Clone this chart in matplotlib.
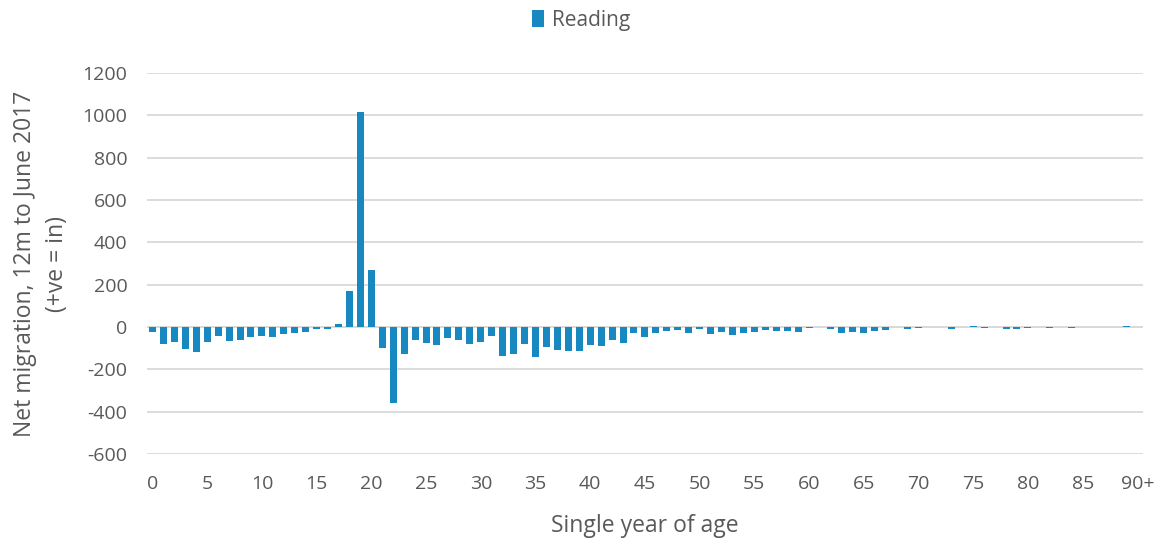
import matplotlib
matplotlib.use("Agg")
import matplotlib.pyplot as plt
import numpy as np

# --- Data ---
ages = [str(a) for a in range(90)] + ["90+"]
net_migration = [
    -24, -79, -71, -102, -118, -69, -44, -66, -61, -47,
    -41, -47, -32, -27, -22, -9, -8, 16, 170, 1015,
    271, -98, -359, -126, -63, -74, -87, -50, -63, -80,
    -71, -44, -137, -129, -82, -140, -95, -107, -112, -115,
    -84, -90, -60, -76, -30, -47, -28, -17, -14, -27,
    -9, -35, -22, -38, -30, -22, -16, -20, -19, -25,
    -5, 0, -8, -30, -24, -27, -17, -14, 0, -8,
    -5, -2, 0, -10, 0, 5, -5, 0, -8, -8,
    -3, 0, -3, 0, -4, 0, 0, -2, -2, 5,
    0,
]
tick_labels = [ages[i] for i in range(0, 90, 5)] + ["90+"]

bar_color = "#1788C0"
text_color = "#595959"
grid_color = "#D9D9D9"

plt.rcParams["font.family"] = ["Open Sans", "DejaVu Sans"]
plt.rcParams["axes.unicode_minus"] = False

fig = plt.figure(figsize=(11.62, 5.38), dpi=100)
ax = fig.add_axes([0.1265, 0.1561, 0.857, 0.7082])

x = np.arange(len(ages))
ax.bar(x, net_migration, width=0.64, color=bar_color, label="Reading", zorder=3)

ax.set_xlim(-0.5, len(ages) - 0.5)
ax.set_ylim(-600, 1200)
ax.set_yticks(range(-600, 1201, 200))
ax.set_xticks(list(range(0, 90, 5)) + [90])
ax.set_xticklabels(tick_labels)

ax.yaxis.grid(True, color=grid_color, linewidth=1.3, zorder=0)
ax.axhline(0, color=grid_color, linewidth=1.3, zorder=1)
for s in ax.spines.values():
    s.set_visible(False)
ax.tick_params(length=0, labelsize=14, colors=text_color)
ax.tick_params(axis="x", pad=15)
ax.tick_params(axis="y", pad=14)

ax.set_xlabel("Single year of age", fontsize=16.5, color=text_color, labelpad=15)
ax.set_ylabel("Net migration, 12m to June 2017\n(+ve = in)", fontsize=16.5,
              color=text_color, labelpad=10, linespacing=1.45)

fig.legend(loc="center", bbox_to_anchor=(0.5, 0.962), frameon=False,
           fontsize=15, labelcolor=text_color, handlelength=0.6, handleheight=0.9,
           handletextpad=0.35)

fig.savefig("out.png", dpi=100)
